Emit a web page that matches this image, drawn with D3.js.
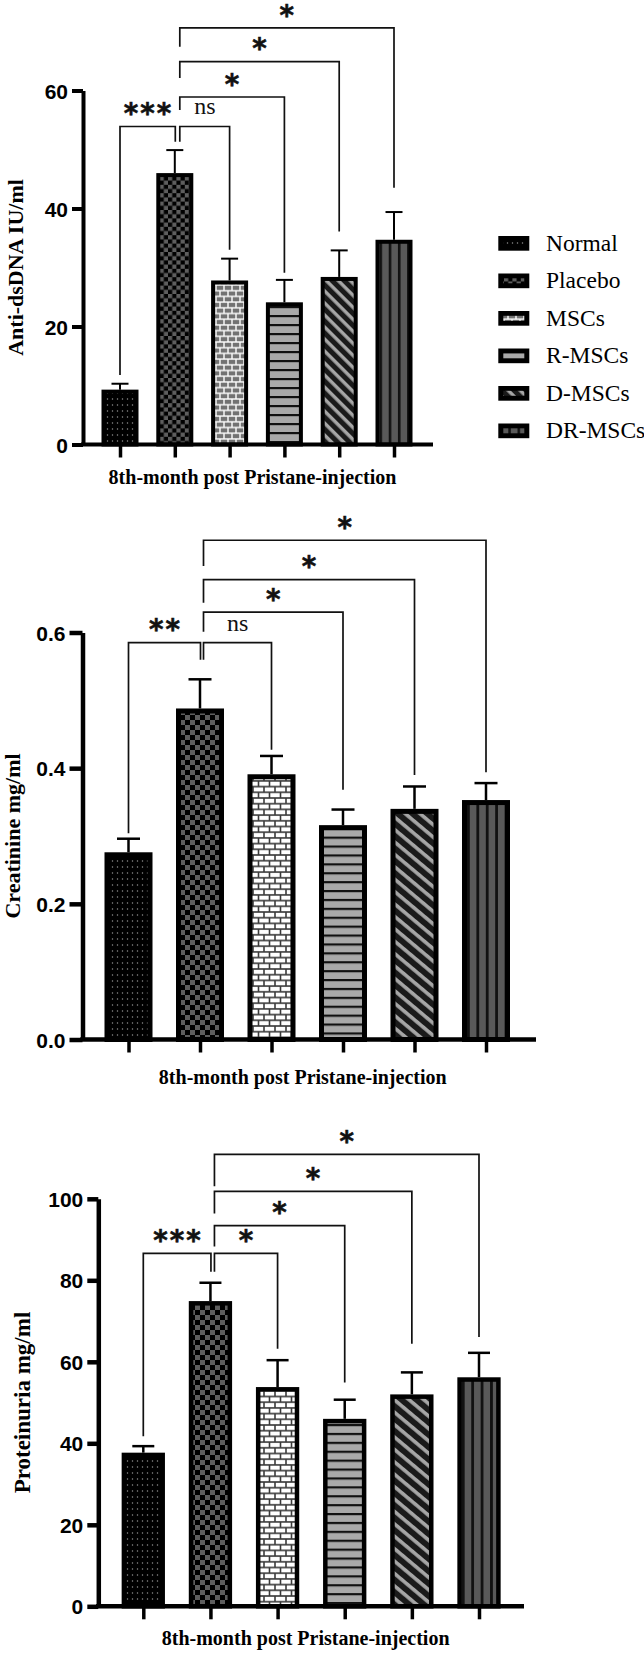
<!DOCTYPE html>
<html><head><meta charset="utf-8">
<script src="https://cdn.jsdelivr.net/npm/d3@7"></script>
<style>html,body{margin:0;padding:0;background:#fff;} svg{display:block;}</style>
</head><body>
<svg id="chart" width="644" height="1653"></svg>
<script>
// ---------------- DATA ----------------
const groups = ["Normal", "Placebo", "MSCs", "R-MSCs", "D-MSCs", "DR-MSCs"];

const antiDsDNAMean = [9.3, 46.0, 27.8, 24.1, 28.4, 34.7];
const antiDsDNASem  = [1.0, 3.9, 3.7, 3.8, 4.5, 4.7];
const antiDsDNATicks = [0, 20, 40, 60];

const creatinineMean = [0.276, 0.488, 0.391, 0.316, 0.340, 0.353];
const creatinineSem  = [0.020, 0.043, 0.027, 0.023, 0.033, 0.025];
const creatinineTicks = [0, 0.2, 0.4, 0.6];

const proteinuriaMean = [37.7, 74.9, 53.8, 46.0, 52.0, 56.2];
const proteinuriaSem  = [1.6, 4.5, 6.6, 4.7, 5.4, 6.0];
const proteinuriaTicks = [0, 20, 40, 60, 80, 100];

const xAxisTitle = "8th-month post Pristane-injection";
const yTitles = ["Anti-dsDNA IU/ml", "Creatinine mg/ml", "Proteinuria mg/ml"];

// comparisons: [group A, group B, label, bracket level, leg end at A, leg end at B] (y units)
const antiDsDNASig = [
  ["Normal", "Placebo", "***", 53.9, 11.8, 51.3],
  ["Placebo", "MSCs", "ns", 53.9, 51.3, 33.0],
  ["Placebo", "R-MSCs", "*", 58.9, 56.7, 29.1],
  ["Placebo", "D-MSCs", "*", 64.9, 62.1, 36.1],
  ["Placebo", "DR-MSCs", "*", 70.6, 67.4, 43.5]
];
const creatinineSig = [
  ["Normal", "Placebo", "**", 0.585, 0.304, 0.560],
  ["Placebo", "MSCs", "ns", 0.585, 0.560, 0.427],
  ["Placebo", "R-MSCs", "*", 0.630, 0.601, 0.368],
  ["Placebo", "D-MSCs", "*", 0.678, 0.644, 0.390],
  ["Placebo", "DR-MSCs", "*", 0.736, 0.698, 0.394]
];
const proteinuriaSig = [
  ["Normal", "Placebo", "***", 86.6, 41.7, 82.1],
  ["Placebo", "MSCs", "*", 86.6, 82.1, 63.2],
  ["Placebo", "R-MSCs", "*", 93.4, 88.3, 54.9],
  ["Placebo", "D-MSCs", "*", 101.8, 96.4, 64.4],
  ["Placebo", "DR-MSCs", "*", 110.9, 103.1, 66.1]
];

const patternOf = ["dots", "checker", "brick", "hstripe", "diag", "vstripe"];

// ---------------- LAYOUT ----------------
const svg = d3.select("#chart");
const defs = svg.append("defs");
const ctx = document.createElement("canvas").getContext("2d");
const starFont = "DejaVu Sans";

const charts = [
  { id: "c1", means: antiDsDNAMean, sems: antiDsDNASem, ticks: antiDsDNATicks, sig: antiDsDNASig,
    yTitle: yTitles[0], fmt: d3.format("d"),
    L: { y0: 444.5, yTop: 90.5, axisX: 83, xEnd: 433, cx: [120, 394], barW: 37, border: 4, axisW: 4,
         capW: 17, errW: 2, tickLen: 11, xTickLen: 13, yTitleX: 23, yTitleSize: 22, xTitleY: 483.5,
         placeboOff: 5, brickColor: "#727272", mortar: "#ffffff",
         P: { dotW: 5, dotH: 6, chk: 4.2, bw: 8, bh: 5.7, m: 1.4, hp: 9, hl: 2.2, dp: 8.5, dg: 3.4, da: 45, vp: 9.2, vl: 2.6 } } },
  { id: "c2", means: creatinineMean, sems: creatinineSem, ticks: creatinineTicks, sig: creatinineSig,
    yTitle: yTitles[1], fmt: d3.format(".1f"),
    L: { y0: 1039.5, yTop: 632.5, axisX: 82.5, xEnd: 536, cx: [128.5, 486], barW: 48, border: 5, axisW: 4.5,
         capW: 23, errW: 2.5, tickLen: 13, xTickLen: 13, yTitleX: 19.5, yTitleSize: 22, xTitleY: 1083.5,
         placeboOff: 3.5, brickColor: "#ffffff", mortar: "#3a3a3a",
         P: { dotW: 5, dotH: 6, chk: 5, bw: 11, bh: 5.7, m: 1.6, hp: 8.9, hl: 2.2, dp: 9.5, dg: 3.6, da: 40, vp: 9.4, vl: 2.8 } } },
  { id: "c3", means: proteinuriaMean, sems: proteinuriaSem, ticks: proteinuriaTicks, sig: proteinuriaSig,
    yTitle: yTitles[2], fmt: d3.format("d"),
    L: { y0: 1606.3, yTop: 1198.8, axisX: 98.3, xEnd: 524, cx: [143.3, 479], barW: 43.3, border: 4.5, axisW: 4.5,
         capW: 22, errW: 2.5, tickLen: 11, xTickLen: 13, yTitleX: 30, yTitleSize: 23, xTitleY: 1645,
         placeboOff: 4, brickColor: "#ffffff", mortar: "#3a3a3a",
         P: { dotW: 5, dotH: 6, chk: 5, bw: 11, bh: 5.7, m: 1.6, hp: 8.9, hl: 2.2, dp: 9.5, dg: 3.6, da: 40, vp: 9.4, vl: 2.8 } } }
];

function pat(id, w, h) {
  return defs.append("pattern").attr("id", id).attr("patternUnits", "userSpaceOnUse")
    .attr("width", w).attr("height", h);
}

function makePatterns(cid, L, drLeft) {
  const P = L.P;
  let p = pat(cid + "-dots", P.dotW, P.dotH);
  p.append("rect").attr("width", P.dotW).attr("height", P.dotH).attr("fill", "#000");
  p.append("rect").attr("x", P.dotW / 2 - 0.6).attr("y", P.dotH / 2 - 0.6).attr("width", 1.2).attr("height", 1.2).attr("fill", "#9a9a9a");

  const s = P.chk;
  p = pat(cid + "-checker", 2 * s, 2 * s);
  p.append("rect").attr("width", 2 * s).attr("height", 2 * s).attr("fill", "#000");
  p.append("rect").attr("width", s).attr("height", s).attr("fill", "#5e5e5e");
  p.append("rect").attr("x", s).attr("y", s).attr("width", s).attr("height", s).attr("fill", "#5e5e5e");

  const bw = P.bw, bh = P.bh, m = P.m;
  p = pat(cid + "-brick", bw, 2 * bh);
  p.append("rect").attr("width", bw).attr("height", 2 * bh).attr("fill", L.mortar);
  p.append("rect").attr("x", m / 2).attr("y", m / 2).attr("width", bw - m).attr("height", bh - m).attr("fill", L.brickColor);
  p.append("rect").attr("x", -bw / 2 + m / 2).attr("y", bh + m / 2).attr("width", bw - m).attr("height", bh - m).attr("fill", L.brickColor);
  p.append("rect").attr("x", bw / 2 + m / 2).attr("y", bh + m / 2).attr("width", bw - m).attr("height", bh - m).attr("fill", L.brickColor);

  p = pat(cid + "-hstripe", 10, P.hp);
  p.append("rect").attr("width", 10).attr("height", P.hp).attr("fill", "#a9a9a9");
  p.append("rect").attr("width", 10).attr("height", P.hl).attr("fill", "#111");

  p = pat(cid + "-diag", 10, P.dp).attr("patternTransform", `rotate(${P.da})`);
  p.append("rect").attr("width", 10).attr("height", P.dp).attr("fill", "#1a1a1a");
  p.append("rect").attr("width", 10).attr("height", P.dg).attr("fill", "#a6a6a6");

  p = pat(cid + "-vstripe", P.vp, 10).attr("x", drLeft);
  p.append("rect").attr("width", P.vp).attr("height", 10).attr("fill", "#595959");
  p.append("rect").attr("width", P.vl).attr("height", 10).attr("fill", "#111");
}

function ink(text, font) {
  ctx.font = font;
  const m = ctx.measureText(text);
  return { asc: m.actualBoundingBoxAscent, desc: m.actualBoundingBoxDescent,
           left: m.actualBoundingBoxLeft, right: m.actualBoundingBoxRight, adv: m.width };
}

function drawLabel(g, label, cx, cy) {
  if (/^\*+$/.test(label)) {
    const fam = starFont;
    const mm = ink("*", `bold 100px "${fam}"`);
    const inkH = mm.asc + mm.desc;
    const k = 13 / inkH;
    const fs = 100 * k;
    const pitch = 16.5;
    const n = label.length;
    const w1 = (mm.left + mm.right) * k;
    const ls = pitch - mm.adv * k;
    const total = (n - 1) * pitch + w1;
    const x0 = cx - total / 2 + mm.left * k;
    const y0 = cy + (mm.asc - mm.desc) * k / 2;
    g.append("text").attr("x", x0).attr("y", y0)
      .attr("font-family", fam).attr("font-weight", "bold").attr("font-size", fs)
      .attr("letter-spacing", ls).attr("fill", "#111").attr("stroke", "#111").attr("stroke-width", 0.6)
      .text(label);
  } else {
    const fam = "Liberation Serif";
    const fs = 24;
    const mm = ink(label, `${fs}px "${fam}"`);
    const x0 = cx - (mm.left + mm.right) / 2 + mm.left;
    const y0 = cy + (mm.asc - mm.desc) / 2;
    g.append("text").attr("x", x0).attr("y", y0)
      .attr("font-family", fam).attr("font-size", fs).attr("fill", "#111").text(label);
  }
}

function drawChart(c) {
  const L = c.L;
  const g = svg.append("g").attr("class", c.id);
  const xs = d3.scalePoint().domain(groups).range(L.cx);
  const ys = d3.scaleLinear().domain([0, d3.max(c.ticks)]).range([L.y0, L.yTop]);
  const drLeft = xs("DR-MSCs") - L.barW / 2 + L.border;
  makePatterns(c.id, L, drLeft);

  // bars
  const b = L.border;
  g.selectAll("rect.bar").data(groups).join("rect").attr("class", "bar")
    .attr("x", d => xs(d) - L.barW / 2 + b / 2)
    .attr("y", (d, i) => ys(c.means[i]) + b / 2)
    .attr("width", L.barW - b)
    .attr("height", (d, i) => ys(0) - ys(c.means[i]) - b / 2)
    .attr("fill", (d, i) => `url(#${c.id}-${patternOf[i]})`)
    .attr("stroke", "#000").attr("stroke-width", b);

  // error bars
  const eg = g.append("g").attr("stroke", "#000").attr("stroke-width", L.errW);
  groups.forEach((d, i) => {
    const x = xs(d), yt = ys(c.means[i] + c.sems[i]);
    eg.append("line").attr("x1", x).attr("x2", x).attr("y1", ys(c.means[i])).attr("y2", yt);
    eg.append("line").attr("x1", x - L.capW / 2).attr("x2", x + L.capW / 2).attr("y1", yt).attr("y2", yt);
  });

  // y axis
  const ya = g.append("g").attr("transform", `translate(${L.axisX},0)`)
    .call(d3.axisLeft(ys).tickValues(c.ticks).tickFormat(c.fmt).tickSize(L.tickLen).tickSizeOuter(0).tickPadding(4));
  ya.select(".domain").attr("stroke", "#000").attr("stroke-width", L.axisW);
  ya.selectAll(".tick line").attr("stroke", "#000").attr("stroke-width", L.axisW);
  ya.selectAll(".tick text").attr("font-family", "Liberation Sans").attr("font-weight", "bold")
    .attr("font-size", 21).attr("fill", "#000").attr("dy", "0.36em");

  // x axis
  const xa = g.append("g").attr("transform", `translate(0,${L.y0})`)
    .call(d3.axisBottom(xs).tickSize(L.xTickLen).tickSizeOuter(0).tickFormat(""));
  xa.select(".domain").remove();
  xa.selectAll(".tick line").attr("stroke", "#000").attr("stroke-width", 3.5);
  g.append("path").attr("d", d3.line()([[L.axisX - L.axisW / 2, L.y0], [L.xEnd, L.y0]]))
    .attr("stroke", "#000").attr("stroke-width", L.axisW);

  // axis titles
  g.append("text").attr("transform", `translate(${L.yTitleX},${(L.y0 + L.yTop) / 2}) rotate(-90)`)
    .attr("text-anchor", "middle").attr("font-family", "Liberation Serif").attr("font-weight", "bold")
    .attr("font-size", L.yTitleSize).attr("fill", "#000").text(c.yTitle);
  g.append("text").attr("x", (L.axisX - L.tickLen + L.xEnd) / 2).attr("y", L.xTitleY)
    .attr("text-anchor", "middle").attr("font-family", "Liberation Serif").attr("font-weight", "bold")
    .attr("font-size", 20).attr("fill", "#000").text(xAxisTitle);

  // significance brackets
  const sg = g.append("g");
  c.sig.forEach(([a, bb, label, level, endA, endB]) => {
    const xa1 = xs(a) + (a === "Placebo" ? L.placeboOff : 0);
    const xb1 = xs(bb) + (bb === "Placebo" ? 0.5 : 0);
    sg.append("path")
      .attr("d", `M${xa1},${ys(endA)}V${ys(level)}H${xb1}V${ys(endB)}`)
      .attr("fill", "none").attr("stroke", "#111").attr("stroke-width", 1.7);
    drawLabel(sg, label, (xa1 + xb1) / 2, ys(level) - 17.5);
  });
}

charts.forEach(drawChart);

// legend
const lg = svg.append("g").attr("class", "legend");
groups.forEach((d, i) => {
  const top = 236 + i * 37.5;
  lg.append("rect").attr("x", 498.3).attr("y", top).attr("width", 31).attr("height", 14.7).attr("fill", "#000");
  lg.append("rect").attr("x", 498.3 + 5).attr("y", top + 4.8).attr("width", 21).attr("height", 5)
    .attr("fill", `url(#c1-${patternOf[i]})`);
  lg.append("text").attr("x", 546).attr("y", top + 14.7).attr("font-family", "Liberation Serif")
    .attr("font-size", 23.5).attr("fill", "#000").text(d);
});
</script>
</body></html>
